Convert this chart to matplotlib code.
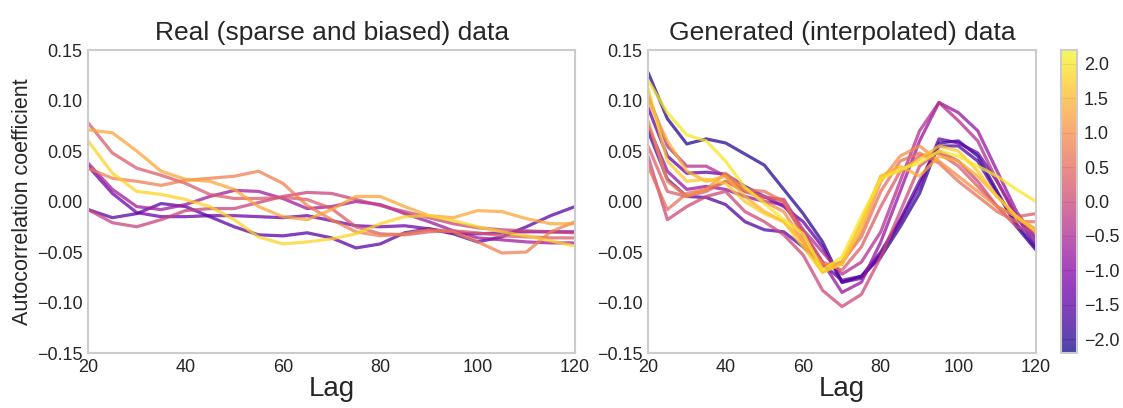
import matplotlib
matplotlib.use("Agg")
import matplotlib.pyplot as plt
import numpy as np
from matplotlib.cm import ScalarMappable
from matplotlib.colors import Normalize

plt.style.use("seaborn-v0_8-whitegrid")
plt.rcParams["font.family"] = ["Liberation Sans", "DejaVu Sans"]

lags = np.arange(20, 121, 5)

# real data: sparse and biased autocorrelation curves, with their colour values
real_vals = [-1.5, -1.3, -0.7, -0.1, 0.3, 0.8, 1.3, 1.8]
real_curves = [
    [-0.008, -0.016, -0.012, -0.002, -0.005, -0.015, -0.025, -0.033, -0.034, -0.031, -0.036,
     -0.046, -0.042, -0.031, -0.027, -0.032, -0.040, -0.035, -0.025, -0.014, -0.005],
    [0.035, 0.008, -0.011, -0.015, -0.015, -0.014, -0.014, -0.015, -0.016, -0.014, -0.019,
     -0.024, -0.025, -0.024, -0.027, -0.031, -0.032, -0.031, -0.030, -0.030, -0.030],
    [0.038, 0.012, -0.005, -0.008, -0.003, 0.005, 0.011, 0.010, 0.003, -0.007, -0.005,
     0.000, -0.003, -0.012, -0.020, -0.029, -0.036, -0.038, -0.040, -0.041, -0.041],
    [-0.008, -0.021, -0.025, -0.018, -0.009, -0.007, -0.007, -0.001, 0.005, 0.009, 0.008,
     0.002, -0.004, -0.010, -0.016, -0.022, -0.026, -0.028, -0.029, -0.030, -0.031],
    [0.078, 0.048, 0.033, 0.026, 0.018, 0.007, 0.003, 0.003, 0.004, 0.002, -0.007,
     -0.025, -0.032, -0.033, -0.030, -0.029, -0.031, -0.034, -0.035, -0.036, -0.036],
    [0.033, 0.023, 0.020, 0.016, 0.021, 0.023, 0.025, 0.030, 0.018, -0.004, -0.018,
     -0.030, -0.034, -0.032, -0.028, -0.030, -0.040, -0.051, -0.050, -0.030, -0.020],
    [0.071, 0.068, 0.050, 0.030, 0.022, 0.020, 0.012, -0.005, -0.015, -0.018, -0.008,
     0.005, 0.005, -0.005, -0.014, -0.016, -0.009, -0.010, -0.017, -0.022, -0.022],
    [0.060, 0.028, 0.010, 0.007, 0.002, -0.005, -0.018, -0.035, -0.042, -0.040, -0.037,
     -0.032, -0.022, -0.015, -0.014, -0.019, -0.025, -0.030, -0.034, -0.039, -0.044],
]

# generated (interpolated) curves
gen_vals = [-2.0, -1.6, -1.4, -0.8, -0.4, 0.0, 0.3, 0.6, 1.0, 1.4, 1.7, 2.0]
gen_curves = [
    [0.128, 0.082, 0.057, 0.062, 0.058, 0.047, 0.036, 0.012, -0.012, -0.040, -0.080,
     -0.074, -0.055, -0.025, 0.008, 0.058, 0.060, 0.045, 0.010, -0.025, -0.048],
    [0.070, 0.022, 0.005, 0.004, -0.003, -0.020, -0.028, -0.030, -0.045, -0.062, -0.078,
     -0.074, -0.050, -0.018, 0.020, 0.055, 0.055, 0.040, 0.008, -0.022, -0.046],
    [0.093, 0.045, 0.028, 0.029, 0.027, 0.015, 0.005, -0.005, -0.020, -0.045, -0.080,
     -0.076, -0.052, -0.020, 0.015, 0.062, 0.058, 0.048, 0.020, -0.015, -0.043],
    [0.075, 0.030, 0.012, 0.015, 0.012, 0.005, 0.000, -0.003, -0.030, -0.060, -0.090,
     -0.080, -0.040, 0.010, 0.060, 0.098, 0.088, 0.070, 0.030, -0.010, -0.038],
    [0.105, 0.055, 0.035, 0.035, 0.025, 0.010, 0.004, 0.002, -0.028, -0.050, -0.072,
     -0.060, -0.030, 0.020, 0.070, 0.098, 0.080, 0.060, 0.020, -0.015, -0.035],
    [0.045, -0.018, -0.005, 0.005, 0.010, -0.010, -0.020, -0.033, -0.053, -0.088, -0.104,
     -0.092, -0.055, -0.010, 0.035, 0.050, 0.040, 0.020, -0.005, -0.025, -0.030],
    [0.055, 0.010, 0.005, 0.010, 0.020, 0.010, 0.005, 0.000, -0.030, -0.060, -0.068,
     -0.045, -0.005, 0.030, 0.045, 0.048, 0.035, 0.015, -0.005, -0.015, -0.012],
    [0.035, -0.008, 0.008, 0.012, 0.020, 0.012, 0.010, 0.000, -0.035, -0.065, -0.060,
     -0.035, 0.010, 0.040, 0.048, 0.038, 0.020, 0.005, -0.010, -0.020, -0.020],
    [0.080, 0.020, 0.005, 0.012, 0.028, 0.012, 0.000, -0.010, -0.040, -0.062, -0.062,
     -0.030, 0.020, 0.045, 0.055, 0.040, 0.025, 0.010, -0.005, -0.015, -0.028],
    [0.100, 0.060, 0.030, 0.020, 0.025, 0.005, -0.010, -0.020, -0.040, -0.070, -0.060,
     -0.020, 0.025, 0.035, 0.025, 0.045, 0.040, 0.025, 0.005, -0.015, -0.028],
    [0.112, 0.040, 0.020, 0.022, 0.018, 0.000, -0.012, -0.020, -0.045, -0.070, -0.062,
     -0.025, 0.025, 0.030, 0.042, 0.055, 0.050, 0.030, 0.005, -0.015, -0.030],
    [0.120, 0.088, 0.066, 0.060, 0.040, 0.014, -0.002, -0.018, -0.032, -0.068, -0.055,
     -0.015, 0.022, 0.032, 0.038, 0.050, 0.045, 0.035, 0.025, 0.012, 0.000],
]

cmap = plt.get_cmap("plasma")
norm = Normalize(vmin=-2.2, vmax=2.2)

fig = plt.figure(figsize=(11.23, 4.08), dpi=100)
ax1 = fig.add_axes([0.0784, 0.1348, 0.4337, 0.7426])
ax2 = fig.add_axes([0.5770, 0.1348, 0.3455, 0.7426])
cax = fig.add_axes([0.9448, 0.1348, 0.0142, 0.7426])

for v, c in zip(real_vals, real_curves):
    ax1.plot(lags, c, color=cmap(norm(v)), alpha=0.75, lw=2.3)
for v, c in zip(gen_vals, gen_curves):
    ax2.plot(lags, c, color=cmap(norm(v)), alpha=0.75, lw=2.3)

yticks = np.arange(-0.15, 0.151, 0.05)
for ax, title in [(ax1, "Real (sparse and biased) data"),
                  (ax2, "Generated (interpolated) data")]:
    ax.grid(False)
    ax.set_xlim(20, 120)
    ax.set_ylim(-0.15, 0.15)
    ax.set_xticks(range(20, 121, 20))
    ax.set_yticks(yticks)
    ax.set_yticklabels([f"{t:.2f}".replace("-", "\u2212") for t in yticks])
    ax.tick_params(labelsize=13, length=0, pad=4)
    for s in ax.spines.values():
        s.set_color("#cccccc")
        s.set_linewidth(1.5)
    ax.set_title(title, fontsize=19, color="#262626", pad=7)
    ax.set_xlabel("Lag", fontsize=20, color="#262626", labelpad=0)

ax1.set_ylabel("Autocorrelation coefficient", fontsize=15.5, color="#262626", labelpad=3)

sm = ScalarMappable(norm=norm, cmap=cmap)
cb = fig.colorbar(sm, cax=cax, alpha=0.75)
cb.set_ticks(np.arange(-2.0, 2.01, 0.5))
cb.ax.tick_params(labelsize=13, length=0, pad=5)
cb.outline.set_edgecolor("#cccccc")
cb.outline.set_linewidth(1.5)

fig.savefig("out.png", dpi=100)
